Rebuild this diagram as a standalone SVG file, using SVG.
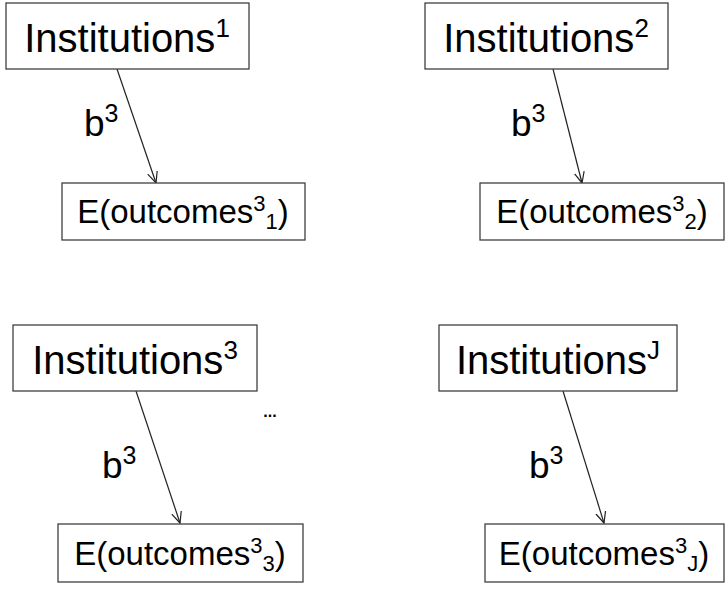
<svg xmlns="http://www.w3.org/2000/svg" width="726" height="592" viewBox="0 0 726 592">
<defs>
<style>
.box{fill:#fff;stroke:#404040;stroke-width:1.3}
.t{font-family:"Liberation Sans",Arial,sans-serif;fill:#000}
.big{font-size:40px}
.mid{font-size:33px}
.lab{font-size:37px}
.conn{stroke:#222;stroke-width:1.2;fill:none;marker-end:url(#ah)}
</style>
<marker id="ah" viewBox="0 0 12 12" refX="11" refY="6" markerWidth="12" markerHeight="12" markerUnits="userSpaceOnUse" orient="auto">
<path d="M0,1 L11,6 L0,11" fill="none" stroke="#222" stroke-width="1.2"/>
</marker>
</defs>
<rect width="726" height="592" fill="#fff"/>
<g id="connectors">
<line class="conn" x1="117" y1="69" x2="156" y2="183"/>
<line class="conn" x1="553" y1="69" x2="582" y2="183"/>
<line class="conn" x1="136" y1="391" x2="180" y2="523"/>
<line class="conn" x1="563" y1="391" x2="604" y2="523"/>
<text class="t lab" x="84" y="136">b<tspan font-size="25" dy="-14">3</tspan></text>
<text class="t lab" x="511" y="136">b<tspan font-size="25" dy="-14">3</tspan></text>
<text class="t lab" x="102" y="478">b<tspan font-size="25" dy="-14">3</tspan></text>
<text class="t lab" x="529" y="478">b<tspan font-size="25" dy="-14">3</tspan></text>
</g>
<g id="inst1">
<rect class="box" x="6" y="3" width="243" height="66"/>
<text class="t big" x="127" y="52" text-anchor="middle">Institutions<tspan font-size="26" dy="-15">1</tspan></text>
</g>
<g id="inst2">
<rect class="box" x="425" y="3" width="243" height="66"/>
<text class="t big" x="546" y="52" text-anchor="middle">Institutions<tspan font-size="26" dy="-15">2</tspan></text>
</g>
<g id="inst3">
<rect class="box" x="13" y="325" width="244" height="66"/>
<text class="t big" x="135" y="374" text-anchor="middle">Institutions<tspan font-size="26" dy="-15">3</tspan></text>
</g>
<g id="instJ">
<rect class="box" x="439" y="325" width="238" height="66"/>
<text class="t big" x="558" y="374" text-anchor="middle">Institutions<tspan font-size="26" dy="-15">J</tspan></text>
</g>
<g id="out1">
<rect class="box" x="62" y="183" width="243" height="57"/>
<text class="t mid" x="183" y="223" text-anchor="middle">E(outcomes<tspan font-size="22" dy="-12">3</tspan><tspan font-size="22" dy="18">1</tspan><tspan dy="-6">)</tspan></text>
</g>
<g id="out2">
<rect class="box" x="480" y="183" width="244" height="57"/>
<text class="t mid" x="602" y="223" text-anchor="middle">E(outcomes<tspan font-size="22" dy="-12">3</tspan><tspan font-size="22" dy="18">2</tspan><tspan dy="-6">)</tspan></text>
</g>
<g id="out3">
<rect class="box" x="58" y="524" width="245" height="58"/>
<text class="t mid" x="180" y="565" text-anchor="middle">E(outcomes<tspan font-size="22" dy="-12">3</tspan><tspan font-size="22" dy="18">3</tspan><tspan dy="-6">)</tspan></text>
</g>
<g id="outJ">
<rect class="box" x="485" y="524" width="239" height="58"/>
<text class="t mid" x="604" y="565" text-anchor="middle">E(outcomes<tspan font-size="22" dy="-12">3</tspan><tspan font-size="22" dy="18">J</tspan><tspan dy="-6">)</tspan></text>
</g>
<g id="ellipsis">
<text class="t" x="270" y="417" font-size="16" font-weight="bold" text-anchor="middle">...</text>
</g>
</svg>
